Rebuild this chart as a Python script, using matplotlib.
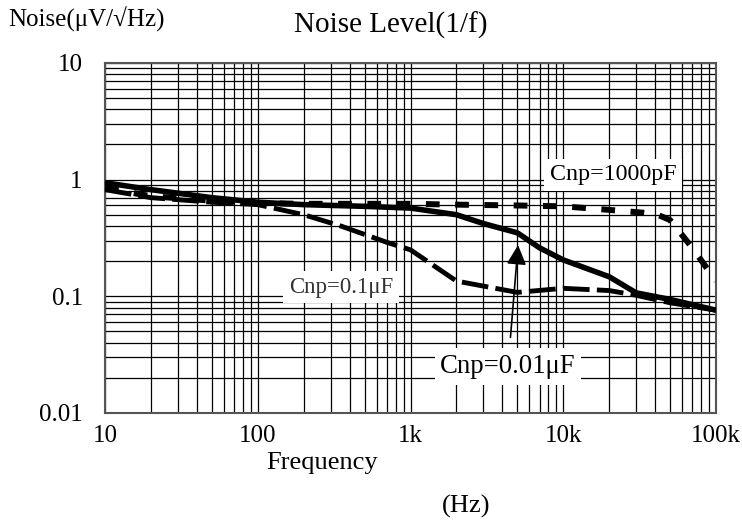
import numpy as np
import matplotlib
matplotlib.use('Agg')
import matplotlib.pyplot as plt
from matplotlib.ticker import FixedLocator, LogLocator, NullFormatter

plt.rcParams['font.family'] = ['Liberation Serif', 'DejaVu Serif']

freq_001 = [10, 20, 50, 100, 200, 500, 1000, 2000, 3000, 5000, 7000, 10000, 20000, 30000, 50000, 100000]
noise_001 = [0.94, 0.82, 0.70, 0.64, 0.61, 0.59, 0.57, 0.50, 0.42, 0.35, 0.26, 0.205, 0.147, 0.107, 0.094, 0.076]

freq_1000p = [10, 20, 50, 100, 200, 500, 1000, 2000, 5000, 10000, 20000, 40000, 50000, 70000, 100000]
noise_1000p = [0.85, 0.72, 0.66, 0.63, 0.62, 0.62, 0.62, 0.61, 0.60, 0.59, 0.55, 0.51, 0.45, 0.26, 0.135]

freq_01 = [10, 20, 50, 100, 200, 350, 700, 1000, 2000, 5000, 10000, 20000, 30000, 50000, 100000]
noise_01 = [0.82, 0.70, 0.64, 0.61, 0.50, 0.40, 0.29, 0.25, 0.135, 0.108, 0.117, 0.112, 0.102, 0.088, 0.076]

xticks = [10, 100, 1000, 10000, 100000]
xtick_labels = ['10', '100', '1k', '10k', '100k']
yticks = [0.01, 0.1, 1, 10]
ytick_labels = ['0.01', '0.1', '1', '10']

fig = plt.figure(figsize=(7.42, 5.21), dpi=100)
ax = fig.add_axes([0.1415, 0.2073, 0.8235, 0.672])

ax.plot(freq_001, noise_001, color='black', lw=4, solid_capstyle='butt', zorder=3)
ax.plot(freq_1000p, noise_1000p, color='black', lw=4.3, dashes=(2.3, 2.6), zorder=3)
ax.plot(freq_01, noise_01, color='black', lw=3.5, dashes=(5.5, 1.5), zorder=3)

ax.set_xscale('log')
ax.set_yscale('log')
ax.set_xlim(10, 100000)
ax.set_ylim(0.01, 10)
ax.xaxis.set_major_locator(FixedLocator(xticks))
ax.set_xticklabels(xtick_labels)
ax.yaxis.set_major_locator(FixedLocator(yticks))
ax.set_yticklabels(ytick_labels)
ax.xaxis.set_minor_locator(LogLocator(base=10, subs=np.arange(2, 10)))
ax.yaxis.set_minor_locator(LogLocator(base=10, subs=np.arange(2, 10)))
ax.xaxis.set_minor_formatter(NullFormatter())
ax.yaxis.set_minor_formatter(NullFormatter())
ax.tick_params(which='both', length=0, labelsize=18)
ax.tick_params(axis='x', pad=9)
ax.tick_params(axis='y', pad=16)
ax.grid(which='both', color='black', lw=0.9)
for s in ax.spines.values():
    s.set_color('#555555')
    s.set_linewidth(1.5)

box = dict(facecolor='white', edgecolor='none', pad=4)
ax.text(2.12e4, 1.1, 'Cnp=1000pF', fontsize=17.3, ha='center', va='center', bbox=box, zorder=4)
ax.text(351, 0.12, 'Cnp=0.1\u03bcF', fontsize=16.5, ha='center', va='center',
        bbox=box, zorder=4, color='#333333')
ax.annotate('Cnp=0.01\u03bcF', xy=(5060, 0.275), xytext=(4350, 0.025), fontsize=19.3,
            ha='center', va='center', bbox=box, zorder=4,
            arrowprops=dict(arrowstyle='-|>', color='black', lw=1.2, mutation_scale=30,
                            shrinkA=8, shrinkB=0))

fig.text(0.011, 0.963, 'Noise(\u03bcV/\u221aHz)', fontsize=18, ha='left', va='center')
fig.text(0.527, 0.952, 'Noise Level(1/f)', fontsize=21, ha='center', va='center')
fig.text(0.434, 0.111, 'Frequency', fontsize=19, ha='center', va='center')
fig.text(0.628, 0.027, '(Hz)', fontsize=19, ha='center', va='center')

fig.savefig('out.png', dpi=100)
